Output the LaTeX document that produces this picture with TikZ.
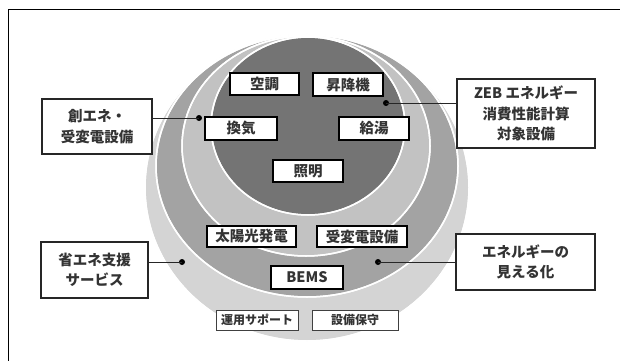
\documentclass[tikz,border=0pt]{standalone}
\usepackage{fontspec}
\newfontfamily\jp{Noto Sans CJK JP}
\definecolor{cL1}{HTML}{D4D4D4}
\definecolor{cM}{HTML}{A3A3A3}
\definecolor{cL2}{HTML}{C2C2C2}
\definecolor{cD}{HTML}{747474}
\definecolor{txt}{HTML}{333333}
\tikzset{
  ring/.style={draw=white, line width=1.5pt},
  inbox/.style={draw=black, line width=1.3pt, fill=white, inner sep=0pt, text=txt,
    font=\jp\bfseries\fontsize{14.5}{16}\selectfont},
  lowbox/.style={draw=black!75, line width=1pt, fill=white, inner sep=0pt, text=txt,
    font=\jp\bfseries\fontsize{12}{13}\selectfont},
  outbox/.style={draw=black!85, line width=1.2pt, fill=white, inner sep=0pt, text=txt, align=center,
    font=\jp\bfseries\fontsize{14.5}{20.5}\selectfont},
  conn/.style={draw=black!85, line width=0.9pt},
  dot/.style={circle, fill=black, inner sep=0pt, minimum size=6pt}
}
\begin{document}
\begin{tikzpicture}[x=1pt, y=-1pt]
\useasboundingbox (0,0) rectangle (620,361);
% frame
\draw[line width=1pt] (620,10) -- (8,10) -- (8,361);
% rings
\fill[ring, fill=cL1] (307,187.5) ellipse [x radius=162, y radius=153.5];
\fill[ring, fill=cM] (307,166) ellipse [x radius=151, y radius=131];
\fill[ring, fill=cL2] (306,146) ellipse [x radius=124, y radius=110];
\fill[ring, fill=cD] (308,126) ellipse [x radius=97, y radius=89];
\draw[ring] (307,187.5) ellipse [x radius=162, y radius=153.5];
\draw[ring] (307,166) ellipse [x radius=151, y radius=131];
\draw[ring] (306,146) ellipse [x radius=124, y radius=110];
\draw[ring] (308,126) ellipse [x radius=97, y radius=89];
% inner boxes
\node[inbox, minimum width=69pt, minimum height=22pt] (kucho) at (264.5,84) {空調};
\node[inbox, minimum width=70pt, minimum height=23pt] (shokoki) at (348,84.5) {昇降機};
\node[inbox, minimum width=72pt, minimum height=23pt] (kanki) at (241,128.5) {換気};
\node[inbox, minimum width=70pt, minimum height=23pt] (kyuto) at (374,128.5) {給湯};
\node[inbox, minimum width=70pt, minimum height=22pt] (shomei) at (308,171) {照明};
\node[inbox, minimum width=89pt, minimum height=21pt] (taiyo) at (251.5,236.5) {太陽光発電};
\node[inbox, minimum width=90pt, minimum height=21pt] (juhen) at (362,236.5) {受変電設備};
\node[inbox, minimum width=72pt, minimum height=23pt] (bems) at (307,277.5) {BEMS};
\node[lowbox, minimum width=82pt, minimum height=20pt] (unyo) at (257,320) {運用サポート};
\node[lowbox, minimum width=86pt, minimum height=20pt] (hoshu) at (355,320) {設備保守};
% outer boxes
\node[outbox, minimum width=110pt, minimum height=55pt] (soene) at (97,126.5) {創エネ・\\受変電設備};
\node[outbox, minimum width=107pt, minimum height=56pt] (shoene) at (94.5,270) {省エネ支援\\サービス};
\node[outbox, minimum width=138pt, minimum height=69pt] (zeb) at (526,113.5) {ZEB エネルギー\\消費性能計算\\対象設備};
\node[outbox, minimum width=139pt, minimum height=56pt] (mieru) at (525.5,262) {エネルギーの\\見える化};
% dots
\node[dot] (d1) at (199,118) {};
\node[dot] (d2) at (386,103) {};
\node[dot] (d3) at (182,262) {};
\node[dot] (d4) at (378,262) {};
% connectors
\draw[conn] (d1.center) -- (d1.center -| soene.east);
\draw[conn] (d2.center) -- (d2.center -| zeb.west);
\draw[conn] (d3.center) -- (d3.center -| shoene.east);
\draw[conn] (d4.center) -- (d4.center -| mieru.west);
\end{tikzpicture}
\end{document}
